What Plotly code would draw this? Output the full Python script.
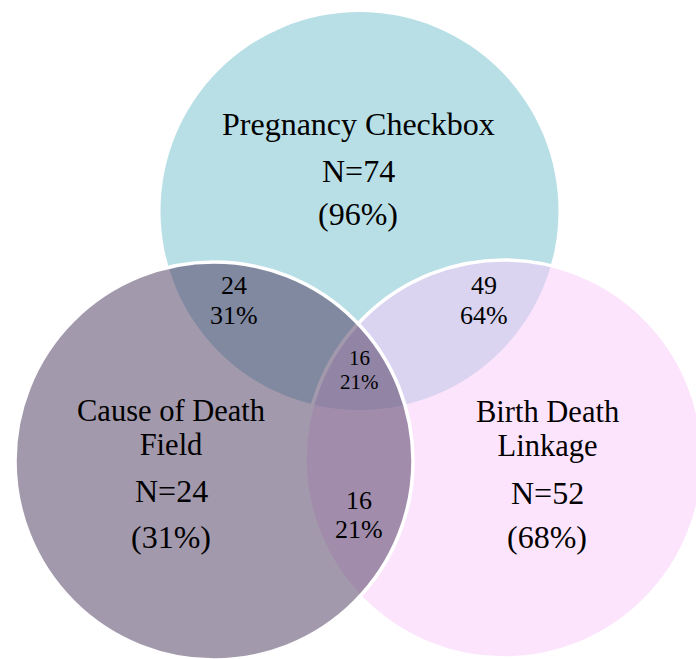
import plotly.graph_objects as go

# ── data ──
set_names = ["Pregnancy Checkbox", "Cause of Death<br>Field", "Birth Death<br>Linkage"]
set_n = [74, 24, 52]
set_pct = [96, 31, 68]

# overlaps: Preg∩Cause, Preg∩Birth, Cause∩Birth, all three
overlap_n = [24, 49, 16, 16]
overlap_pct = [31, 64, 21, 21]

# ── layout (pixel space, y grows downward) ──
W, H = 696, 659
circles = [  # cx, cy, r, fill, outline
    (359.5, 211, 199, 'rgb(184,223,230)', None),
    (504, 459, 199, 'rgba(251,201,251,0.5)', 'white'),
    (214, 461, 199, 'rgba(72,51,89,0.5)', 'white'),
]
# label positions: (x, y of title block centre, y of N, y of pct)
set_pos = [
    (358, 124, 171, 214),
    (171, 428, 491, 537),
    (547, 429, 493, 537),
]
# (x, y of count, y of pct, font size)
overlap_pos = [(234, 285, 315, 26), (484, 285, 315, 26),
               (359, 500, 529, 26), (359, 358, 382, 21)]

FONT = 'Times New Roman, Liberation Serif, serif'
BIG = 32
WRAP = 30.5      # glyph size of wrapped (two-line) titles
TITLE_LINE = 34  # line pitch of the wrapped titles, px

fig = go.Figure()

for cx, cy, r, fill, outline in circles:
    fig.add_shape(
        type='circle', xref='x', yref='y',
        x0=cx - r, x1=cx + r, y0=cy - r, y1=cy + r,
        fillcolor=fill,
        line=dict(color=outline or 'rgba(0,0,0,0)', width=3.5 if outline else 0),
        layer='above',
    )

for name, n, pct, (x, y_t, y_n, y_pct) in zip(set_names, set_n, set_pct, set_pos):
    lines = name.split('<br>')
    if len(lines) > 1:
        # plotly spaces lines at 1.3 x the annotation font size, so set that
        # small and draw the glyphs at full size through a span
        title = '<br>'.join(f'<span style="font-size:{WRAP}px">{ln}</span>' for ln in lines)
        tfont = dict(family=FONT, size=TITLE_LINE / 1.3, color='black')
    else:
        title = name
        tfont = dict(family=FONT, size=BIG, color='black')
    fig.add_annotation(x=x, y=y_t, text=title, showarrow=False, font=tfont)
    fig.add_annotation(x=x, y=y_n, text=f'N={n}', showarrow=False,
                       font=dict(family=FONT, size=BIG, color='black'))
    fig.add_annotation(x=x, y=y_pct, text=f'({pct}%)', showarrow=False,
                       font=dict(family=FONT, size=BIG, color='black'))

for n, pct, (x, y_n, y_pct, fs) in zip(overlap_n, overlap_pct, overlap_pos):
    fig.add_annotation(x=x, y=y_n, text=f'{n}', showarrow=False,
                       font=dict(family=FONT, size=fs, color='black'))
    fig.add_annotation(x=x, y=y_pct, text=f'{pct}%', showarrow=False,
                       font=dict(family=FONT, size=fs, color='black'))

fig.update_layout(
    width=W, height=H,
    margin=dict(l=0, r=0, t=0, b=0),
    paper_bgcolor='white',
    plot_bgcolor='white',
    showlegend=False,
)
fig.update_xaxes(range=[0, W], visible=False, fixedrange=True)
fig.update_yaxes(range=[H, 0], visible=False, fixedrange=True)

# drop the default body margin so the chart sits at the page corner
fig.write_html("out.html", config={'displayModeBar': False},
               post_script="document.body.style.margin='0';")
